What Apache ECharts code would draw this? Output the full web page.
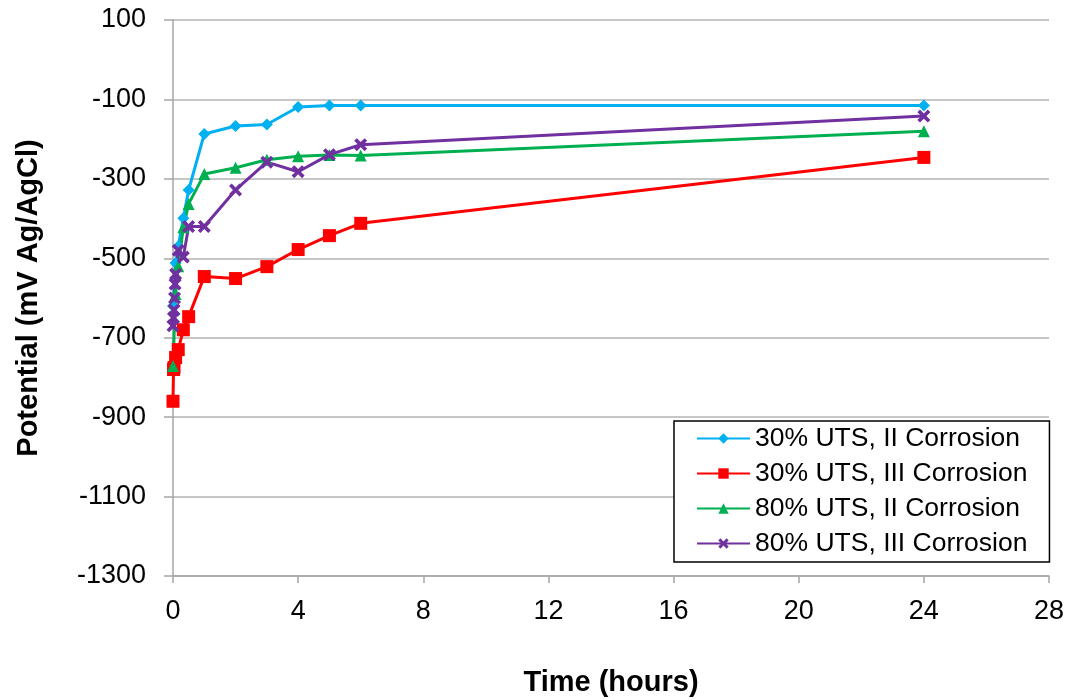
<!DOCTYPE html>
<html><head><meta charset="utf-8">
<script src="https://cdn.jsdelivr.net/npm/echarts@6/dist/echarts.min.js"></script>
<style>html,body{margin:0;padding:0;background:#fff}#c{width:1072px;height:700px}</style>
</head><body><div id="c"></div>
<script>
const xTicks = [0,4,8,12,16,20,24,28];
const yTicks = [-1300,-1100,-900,-700,-500,-300,-100,100];
const s1Name = '30% UTS, II Corrosion';
const s1Time = [0, 0.083, 0.167, 0.33, 0.5, 1, 2, 3, 4, 5, 6, 24];
const s1Val  = [-620, -512, -470, -399, -328, -187, -167, -163, -119, -115, -115, -115];
const s2Name = '30% UTS, III Corrosion';
const s2Time = [0, 0.017, 0.033, 0.083, 0.167, 0.33, 0.5, 1, 2, 3, 4, 5, 6, 24];
const s2Val  = [-860, -780, -775, -750, -730, -680, -647, -546, -551, -521, -478, -443, -412, -246];
const s3Name = '80% UTS, II Corrosion';
const s3Time = [0, 0.083, 0.167, 0.33, 0.5, 1, 2, 3, 4, 5, 6, 24];
const s3Val  = [-771, -590, -520, -422, -363, -288, -272, -252, -243, -240, -241, -180];
const s4Name = '80% UTS, III Corrosion';
const s4Time = [0, 0.017, 0.033, 0.05, 0.067, 0.083, 0.167, 0.33, 0.5, 1, 2, 3, 4, 5, 6, 24];
const s4Val  = [-670, -650, -630, -600, -565, -540, -480, -497, -420, -420, -328, -258, -282, -239, -214, -142];

const F = 'Arial, "Liberation Sans", sans-serif';
const xSym = 'path://M0,2 L2,0 L5,3 L8,0 L10,2 L7,5 L10,8 L8,10 L5,7 L2,10 L0,8 L3,5 Z';
function mk(name, t, v, color, symbol, size) {
  return {
    name, type: 'line', data: t.map((x, i) => [x, v[i]]),
    symbol, symbolSize: size, showSymbol: true,
    lineStyle: {color, width: 3}, itemStyle: {color},
    emphasis: {disabled: true}, animation: false
  };
}
const chart = echarts.init(document.getElementById('c'));
chart.setOption({
  backgroundColor: '#fff',
  animation: false,
  grid: {left: 173, right: 23, top: 20, bottom: 124, containLabel: false, outerBoundsMode: 'none'},
  xAxis: {
    type: 'value', min: 0, max: 28, interval: 4,
    name: 'Time (hours)', nameLocation: 'middle', nameGap: 92,
    nameTextStyle: {fontFamily: F, fontSize: 29, fontWeight: 'bold', color: '#000'},
    axisLine: {show: true, onZero: false, lineStyle: {color: '#a6a6a6', width: 1.5}},
    axisTick: {show: true, length: 7, lineStyle: {color: '#a6a6a6', width: 1.5}},
    axisLabel: {fontFamily: F, fontSize: 27, color: '#000', margin: 22,
      formatter: v => xTicks.includes(v) ? String(v) : ''},
    splitLine: {show: false}
  },
  yAxis: {
    type: 'value', min: -1300, max: 100, interval: 200,
    name: 'Potential (mV Ag/AgCl)', nameLocation: 'middle', nameGap: 130, nameRotate: 90,
    nameTextStyle: {fontFamily: F, fontSize: 29, fontWeight: 'bold', color: '#000'},
    axisLine: {show: true, onZero: false, lineStyle: {color: '#a6a6a6', width: 1.5}},
    axisTick: {show: true, length: 9, lineStyle: {color: '#a6a6a6', width: 1.5}},
    axisLabel: {fontFamily: F, fontSize: 27, color: '#000', margin: 27,
      formatter: v => yTicks.includes(v) ? String(v) : ''},
    splitLine: {show: true, lineStyle: {color: '#b3b3b3', width: 1.5}}
  },
  legend: {
    orient: 'vertical', left: 674, top: 421,
    backgroundColor: '#fff', borderColor: '#000', borderWidth: 1.5,
    padding: [4, 22, 5, 22], itemGap: 8, itemWidth: 53, itemHeight: 13,
    textStyle: {fontFamily: F, fontSize: 26.5, lineHeight: 26, color: '#000'},
    data: [s1Name, s2Name, s3Name, s4Name]
  },
  series: [
    mk(s1Name, s1Time, s1Val, '#00b0f0', 'diamond', 12),
    mk(s2Name, s2Time, s2Val, '#ff0000', 'rect', 13),
    mk(s3Name, s3Time, s3Val, '#00b050', 'triangle', 12),
    mk(s4Name, s4Time, s4Val, '#7030a0', xSym, 13)
  ]
});
</script></body></html>
